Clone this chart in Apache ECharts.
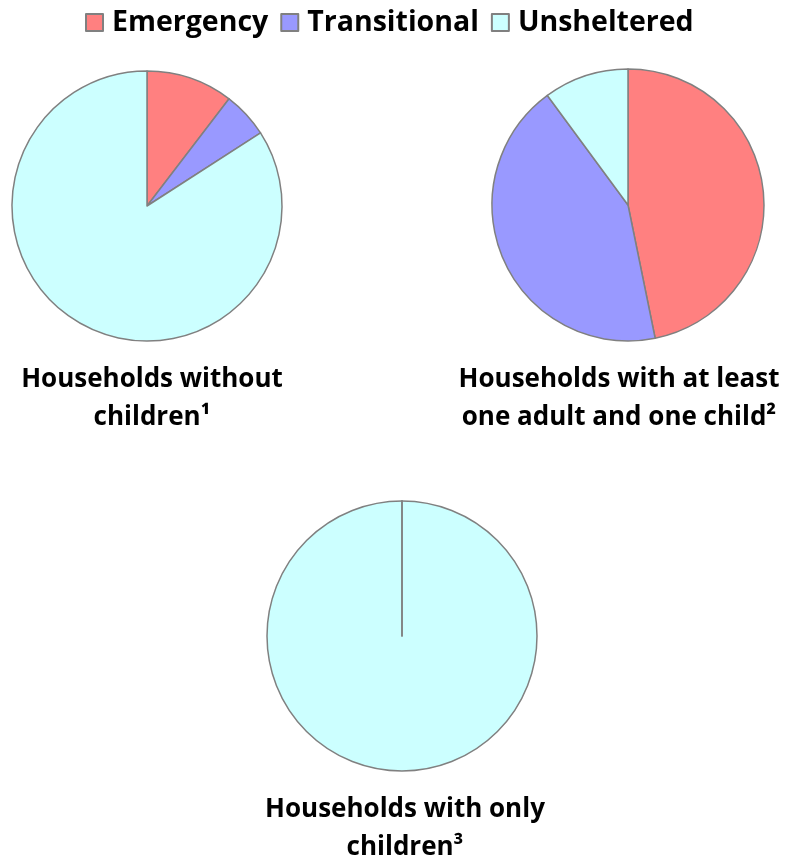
<!DOCTYPE html>
<html>
<head>
<meta charset="utf-8">
<script src="https://cdn.jsdelivr.net/npm/echarts@6/dist/echarts.min.js"></script>
<style>
  html, body { margin: 0; padding: 0; background: #fff; }
  #chart { width: 806px; height: 866px; }
</style>
</head>
<body>
<div id="chart"></div>
<script>
// shelter categories and share (%) for each household type
const categories = ["Emergency", "Transitional", "Unsheltered"];
const colors = ["#ff8080", "#9999ff", "#ccffff"];
const withoutChildren = [10.4, 5.5, 84.1];
const adultAndChild = [46.8, 43.1, 10.1];
const onlyChildren = [0, 0, 100];
const pieTitles = [
  "Households without\nchildren¹",
  "Households with at least\none adult and one child²",
  "Households with only\nchildren³"
];

const font = "'Open Sans', sans-serif";

function toData(values, order) {
  order = order || [0, 1, 2];
  return order.map((i) => ({
    name: categories[i],
    value: values[i],
    itemStyle: { color: colors[i] }
  }));
}

function pieSeries(values, center, radius, order) {
  return {
    type: "pie",
    center: center,
    radius: radius,
    startAngle: 90,
    clockwise: true,
    avoidLabelOverlap: false,
    stillShowZeroSum: true,
    label: { show: false },
    labelLine: { show: false },
    emphasis: { disabled: true },
    itemStyle: { borderColor: "#808080", borderWidth: 1.5 },
    data: toData(values, order)
  };
}

function titleAt(text, left, top) {
  return {
    text: text,
    left: left,
    top: top,
    textAlign: "center",
    textStyle: {
      fontFamily: font,
      fontWeight: "bold",
      fontSize: 26,
      lineHeight: 38,
      color: "#000"
    }
  };
}

const chart = echarts.init(document.getElementById("chart"));
chart.setOption({
  animation: false,
  title: [
    titleAt(pieTitles[0], 147, 356),
    titleAt(pieTitles[1], 614, 356),
    titleAt(pieTitles[2], 400, 786)
  ],
  legend: {
    top: 3,
    left: 80,
    icon: "rect",
    itemWidth: 17,
    itemHeight: 17,
    itemGap: 12,
    selectedMode: false,
    data: categories,
    textStyle: {
      fontFamily: font,
      fontWeight: "bold",
      fontSize: 28.5,
      color: "#000",
      padding: [0, 0, 0, 4]
    }
  },
  series: [
    pieSeries(withoutChildren, [147, 206], 135),
    pieSeries(adultAndChild, [628, 205], 136),
    // zero slices drawn after the full one so their edge shows at the top
    pieSeries(onlyChildren, [402, 636], 135, [2, 0, 1])
  ]
});
</script>
</body>
</html>
